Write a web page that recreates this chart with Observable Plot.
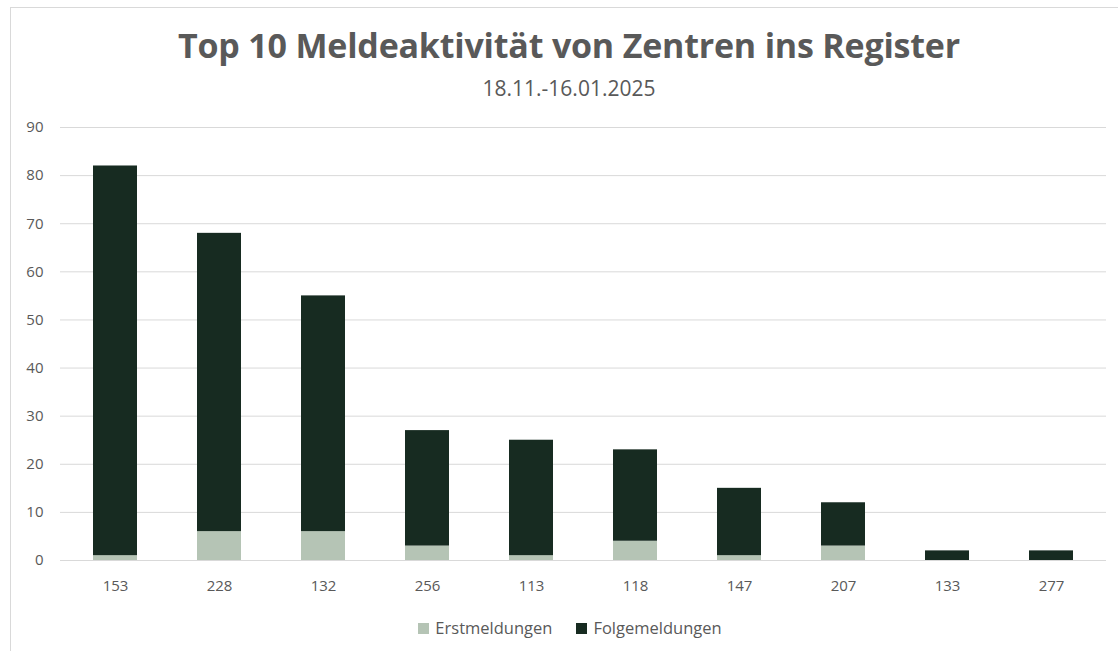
<!DOCTYPE html>
<html>
<head>
<meta charset="utf-8">
<script src="https://cdn.jsdelivr.net/npm/d3@7"></script>
<script src="https://cdn.jsdelivr.net/npm/@observablehq/plot@0.6"></script>
<style>
  html, body { margin: 0; padding: 0; background: #fff; }
  body { width: 1118px; height: 651px; position: relative; overflow: hidden; font-family: "Open Sans", "Noto Sans", sans-serif; }
  #frame { position: absolute; left: 10px; top: 7px; width: 1130px; height: 660px; border: 1px solid #d9d9d9; box-sizing: border-box; }
  #title { position: absolute; left: 0; width: 1138px; top: 22px; text-align: center; font-size: 34px; font-weight: 700; color: #595959; letter-spacing: -0.2px; }
  #subtitle { position: absolute; left: 0; width: 1138px; top: 74px; text-align: center; font-size: 21px; color: #595959; }
  #chart { position: absolute; left: 0; top: 110px; }
  #legend { position: absolute; left: 0; width: 1140px; top: 616px; text-align: center; font-size: 16.5px; color: #595959; }
  .item { display: inline-block; margin: 0 12px; }
  .sw { display: inline-block; width: 11px; height: 11px; margin-right: 6px; vertical-align: 0px; }
</style>
</head>
<body>
<div id="frame"></div>
<div id="title">Top 10 Meldeaktivität von Zentren ins Register</div>
<div id="subtitle">18.11.-16.01.2025</div>
<div id="chart"></div>
<div id="legend"></div>
<script>
const centers = ["153", "228", "132", "256", "113", "118", "147", "207", "133", "277"];
const erstmeldungen = [1, 6, 6, 3, 1, 4, 1, 3, 0, 0];
const folgemeldungen = [81, 62, 49, 24, 24, 19, 14, 9, 2, 2];
const seriesNames = ["Erstmeldungen", "Folgemeldungen"];
const seriesColors = ["#b5c4b5", "#172b21"];
const yTicks = [0, 10, 20, 30, 40, 50, 60, 70, 80, 90];

const data = [];
centers.forEach((c, i) => {
  data.push({center: c, series: seriesNames[0], value: erstmeldungen[i]});
  data.push({center: c, series: seriesNames[1], value: folgemeldungen[i]});
});

const chart = Plot.plot({
  width: 1118,
  height: 500,
  marginTop: 17,
  marginBottom: 50,
  marginLeft: 60,
  marginRight: 12,
  style: {fontFamily: "'Open Sans', 'Noto Sans', sans-serif", fontSize: "15px", color: "#595959", background: "transparent"},
  x: {domain: centers, label: null, paddingInner: 0.58, paddingOuter: 0.29, tickSize: 0, tickPadding: 20},
  y: {domain: [0, 90], ticks: yTicks, label: null, tickSize: 0, tickPadding: 17, grid: false},
  color: {domain: seriesNames, range: seriesColors},
  marks: [
    Plot.ruleY(yTicks, {stroke: "#d9d9d9", strokeWidth: 1}),
    Plot.barY(data, Plot.stackY({x: "center", y: "value", fill: "series", order: seriesNames})),
  ]
});
document.getElementById("chart").appendChild(chart);

const legend = document.getElementById("legend");
seriesNames.forEach((s, i) => {
  const item = document.createElement("span");
  item.className = "item";
  const sw = document.createElement("span");
  sw.className = "sw";
  sw.style.background = seriesColors[i];
  item.appendChild(sw);
  item.appendChild(document.createTextNode(s));
  legend.appendChild(item);
});
</script>
</body>
</html>
